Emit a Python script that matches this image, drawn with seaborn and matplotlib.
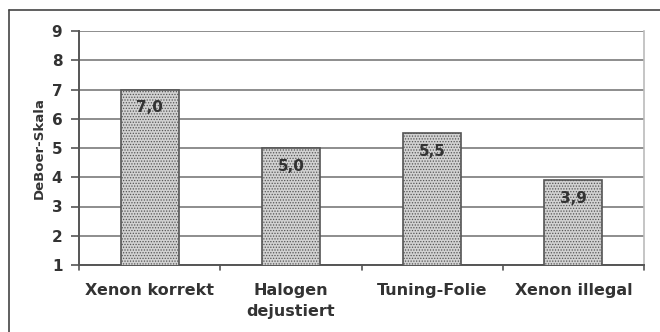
import matplotlib
matplotlib.use("Agg")
import matplotlib.pyplot as plt
import seaborn as sns
import pandas as pd
from matplotlib.lines import Line2D

categories = ["Xenon korrekt", "Halogen\ndejustiert", "Tuning-Folie", "Xenon illegal"]
values = [7.0, 5.0, 5.5, 3.9]
value_labels = ["7,0", "5,0", "5,5", "3,9"]
y_ticks = [1, 2, 3, 4, 5, 6, 7, 8, 9]

sns.set_style("white")
plt.rcParams["font.family"] = ["DejaVu Sans"]
plt.rcParams["hatch.color"] = "#929292"
plt.rcParams["hatch.linewidth"] = 0.6

df = pd.DataFrame({"Kategorie": categories, "Wert": values})

fig = plt.figure(figsize=(6.6, 3.32), dpi=100)
ax = fig.add_axes([79 / 660, 1 - 265 / 332, (644 - 79) / 660, (265 - 31) / 332])

sns.barplot(data=df, x="Kategorie", y="Wert", ax=ax, width=0.41,
            color="#d2d2d2", edgecolor="#555555", linewidth=1.2, zorder=3)
for p in ax.patches:
    p.set_hatch("......")
    p.set_zorder(3)

ax.set_ylim(1, 9)
ax.set_xlim(-0.5, 3.5)
ax.set_yticks(y_ticks)
ax.set_yticklabels([str(t) for t in y_ticks], fontsize=11, fontweight="bold", color="#333333")
ax.yaxis.grid(True, color="#858585", linewidth=1.3, zorder=0)
ax.set_axisbelow(True)

# category ticks sit between the bars
ax.set_xticks([0, 1, 2, 3])
ax.set_xticklabels(categories, fontsize=11.5, fontweight="bold", color="#333333", linespacing=1.5)
ax.tick_params(axis="x", length=0, pad=13)
for xb in [-0.5, 0.5, 1.5, 2.5, 3.5]:
    ax.plot([xb, xb], [0, -0.022], transform=ax.get_xaxis_transform(),
            color="#555555", linewidth=1.2, clip_on=False)
ax.tick_params(axis="y", length=6, width=1.2, color="#555555", pad=6, left=True)

ax.set_xlabel("")
ax.set_ylabel("DeBoer-Skala", fontsize=9.5, fontweight="bold", color="#333333", labelpad=4)

for s in ["left", "bottom"]:
    ax.spines[s].set_color("#555555")
    ax.spines[s].set_linewidth(1.4)
ax.spines["top"].set_visible(False)
ax.spines["right"].set_color("#bbbbbb")
ax.spines["right"].set_linewidth(1.2)

for i, (v, lab) in enumerate(zip(values, value_labels)):
    ax.text(i, v - 0.62, lab, ha="center", va="center", fontsize=11,
            fontweight="bold", color="#333333", zorder=5)

# outer frame around the chart
fig.add_artist(Line2D([9 / 660, 9 / 660], [0, 1 - 10 / 332], transform=fig.transFigure,
                      color="#444444", linewidth=1.2))
fig.add_artist(Line2D([9 / 660, 1], [1 - 10 / 332, 1 - 10 / 332], transform=fig.transFigure,
                      color="#444444", linewidth=1.2))

fig.savefig("out.png", dpi=100, facecolor="white")
